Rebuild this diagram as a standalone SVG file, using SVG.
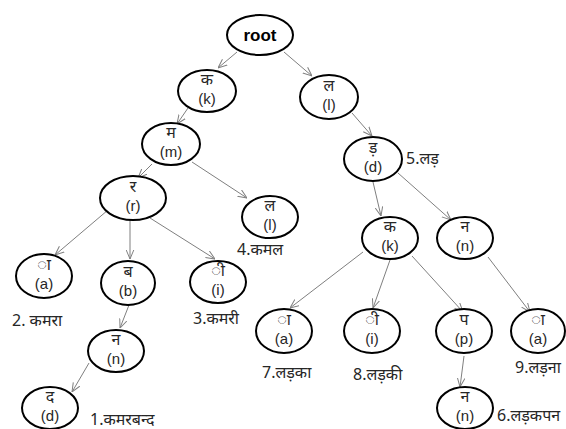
<svg xmlns="http://www.w3.org/2000/svg" width="566" height="429" viewBox="0 0 566 429">
<defs>
<marker id="ah" viewBox="0 0 10 10" refX="10" refY="5" markerWidth="9" markerHeight="9" orient="auto" markerUnits="userSpaceOnUse">
<polyline points="0,0.8 10,5 0,9.2" fill="none" stroke="#7f7f7f" stroke-width="1.1"/>
</marker>
<style>
.n{fill:#fff;stroke:#000;stroke-width:2}
.t{font-family:"Noto Sans","Liberation Sans",sans-serif;font-size:16px;fill:#262626;text-anchor:middle}
.b{font-family:"Liberation Sans",Arial,sans-serif;font-size:15px;fill:#262626;text-anchor:middle}
.l{font-family:"Noto Sans","Liberation Sans",sans-serif;font-size:16px;fill:#262626}
.r{font-family:"Liberation Sans",Arial,sans-serif;font-size:17px;font-weight:bold;fill:#000;text-anchor:middle}
.c line{stroke:#7f7f7f;stroke-width:1;marker-end:url(#ah)}
</style>
</defs>
<rect width="566" height="429" fill="#fff"/>
<g class="c" id="connectors">
<line x1="237" y1="52" x2="218" y2="68"/>
<line x1="284" y1="52" x2="312" y2="76"/>
<line x1="188" y1="108" x2="177" y2="124"/>
<line x1="352" y1="113" x2="372" y2="136"/>
<line x1="152" y1="164" x2="138" y2="178"/>
<line x1="192" y1="162" x2="247" y2="198"/>
<line x1="108" y1="210" x2="55" y2="255"/>
<line x1="130" y1="220" x2="130" y2="259"/>
<line x1="150" y1="218" x2="215" y2="259"/>
<line x1="129" y1="305" x2="120" y2="328"/>
<line x1="89" y1="363" x2="72" y2="392"/>
<line x1="373" y1="182" x2="381" y2="216"/>
<line x1="398" y1="173" x2="451" y2="220"/>
<line x1="363" y1="252" x2="290" y2="308"/>
<line x1="390" y1="260" x2="373" y2="308"/>
<line x1="412" y1="256" x2="463" y2="312"/>
<line x1="488" y1="257" x2="530" y2="312"/>
<line x1="464" y1="356" x2="460" y2="387"/>
</g>
<g id="root"><ellipse class="n" cx="260" cy="35" rx="33" ry="20"/><text class="r" x="260" y="41">root</text></g>
<g id="k1"><ellipse class="n" cx="207" cy="91" rx="29" ry="21"/><text class="t" x="207" y="85">क</text><text class="b" x="207" y="104">(k)</text></g>
<g id="l1"><ellipse class="n" cx="329" cy="97" rx="29" ry="22"/><text class="t" x="329" y="91">ल</text><text class="b" x="329" y="110">(l)</text></g>
<g id="m1"><ellipse class="n" cx="171" cy="144" rx="29" ry="21"/><text class="t" x="171" y="138">म</text><text class="b" x="171" y="157">(m)</text></g>
<g id="r1"><ellipse class="n" cx="133" cy="198" rx="33" ry="22"/><text class="t" x="133" y="192">र</text><text class="b" x="133" y="211">(r)</text></g>
<g id="l2"><ellipse class="n" cx="270" cy="217" rx="28" ry="21"/><text class="t" x="270" y="211">ल</text><text class="b" x="270" y="230">(l)</text></g>
<g id="a1"><ellipse class="n" cx="44" cy="276" rx="28" ry="22"/><text class="t" x="44" y="270">ा</text><text class="b" x="44" y="289">(a)</text></g>
<g id="b1"><ellipse class="n" cx="128" cy="283" rx="27" ry="22"/><text class="t" x="128" y="277">ब</text><text class="b" x="128" y="296">(b)</text></g>
<g id="i1"><ellipse class="n" cx="218" cy="282" rx="28" ry="21"/><text class="t" x="218" y="276">ी</text><text class="b" x="218" y="295">(i)</text></g>
<g id="n1"><ellipse class="n" cx="116" cy="351" rx="28" ry="21"/><text class="t" x="116" y="345">न</text><text class="b" x="116" y="364">(n)</text></g>
<g id="d1"><ellipse class="n" cx="50" cy="408" rx="28" ry="21"/><text class="t" x="50" y="402">द</text><text class="b" x="50" y="421">(d)</text></g>
<g id="d2"><ellipse class="n" cx="373" cy="159" rx="29" ry="22"/><text class="t" x="373" y="153">ड़</text><text class="b" x="373" y="172">(d)</text></g>
<g id="k2"><ellipse class="n" cx="390" cy="238" rx="28" ry="21"/><text class="t" x="390" y="232">क</text><text class="b" x="390" y="251">(k)</text></g>
<g id="n2"><ellipse class="n" cx="465" cy="238" rx="28" ry="21"/><text class="t" x="465" y="232">न</text><text class="b" x="465" y="251">(n)</text></g>
<g id="a2"><ellipse class="n" cx="284" cy="331" rx="28" ry="22"/><text class="t" x="284" y="325">ा</text><text class="b" x="284" y="344">(a)</text></g>
<g id="i2"><ellipse class="n" cx="372" cy="331" rx="28" ry="22"/><text class="t" x="372" y="325">ी</text><text class="b" x="372" y="344">(i)</text></g>
<g id="p1"><ellipse class="n" cx="464" cy="331" rx="28" ry="22"/><text class="t" x="464" y="325">प</text><text class="b" x="464" y="344">(p)</text></g>
<g id="a3"><ellipse class="n" cx="538" cy="331" rx="27" ry="22"/><text class="t" x="538" y="325">ा</text><text class="b" x="538" y="344">(a)</text></g>
<g id="n3"><ellipse class="n" cx="465" cy="408" rx="28" ry="21"/><text class="t" x="465" y="402">न</text><text class="b" x="465" y="421">(n)</text></g>
<g id="labels">
<text class="l" x="12" y="326">2. कमरा</text>
<text class="l" x="193" y="324">3.कमरी</text>
<text class="l" x="237" y="255">4.कमल</text>
<text class="l" x="90" y="425">1.कमरबन्द</text>
<text class="l" x="406" y="164">5.लड़</text>
<text class="l" x="262" y="378">7.लड़का</text>
<text class="l" x="353" y="380">8.लड़की</text>
<text class="l" x="515" y="373">9.लड़ना</text>
<text class="l" x="497" y="421">6.लड़कपन</text>
</g>
</svg>
